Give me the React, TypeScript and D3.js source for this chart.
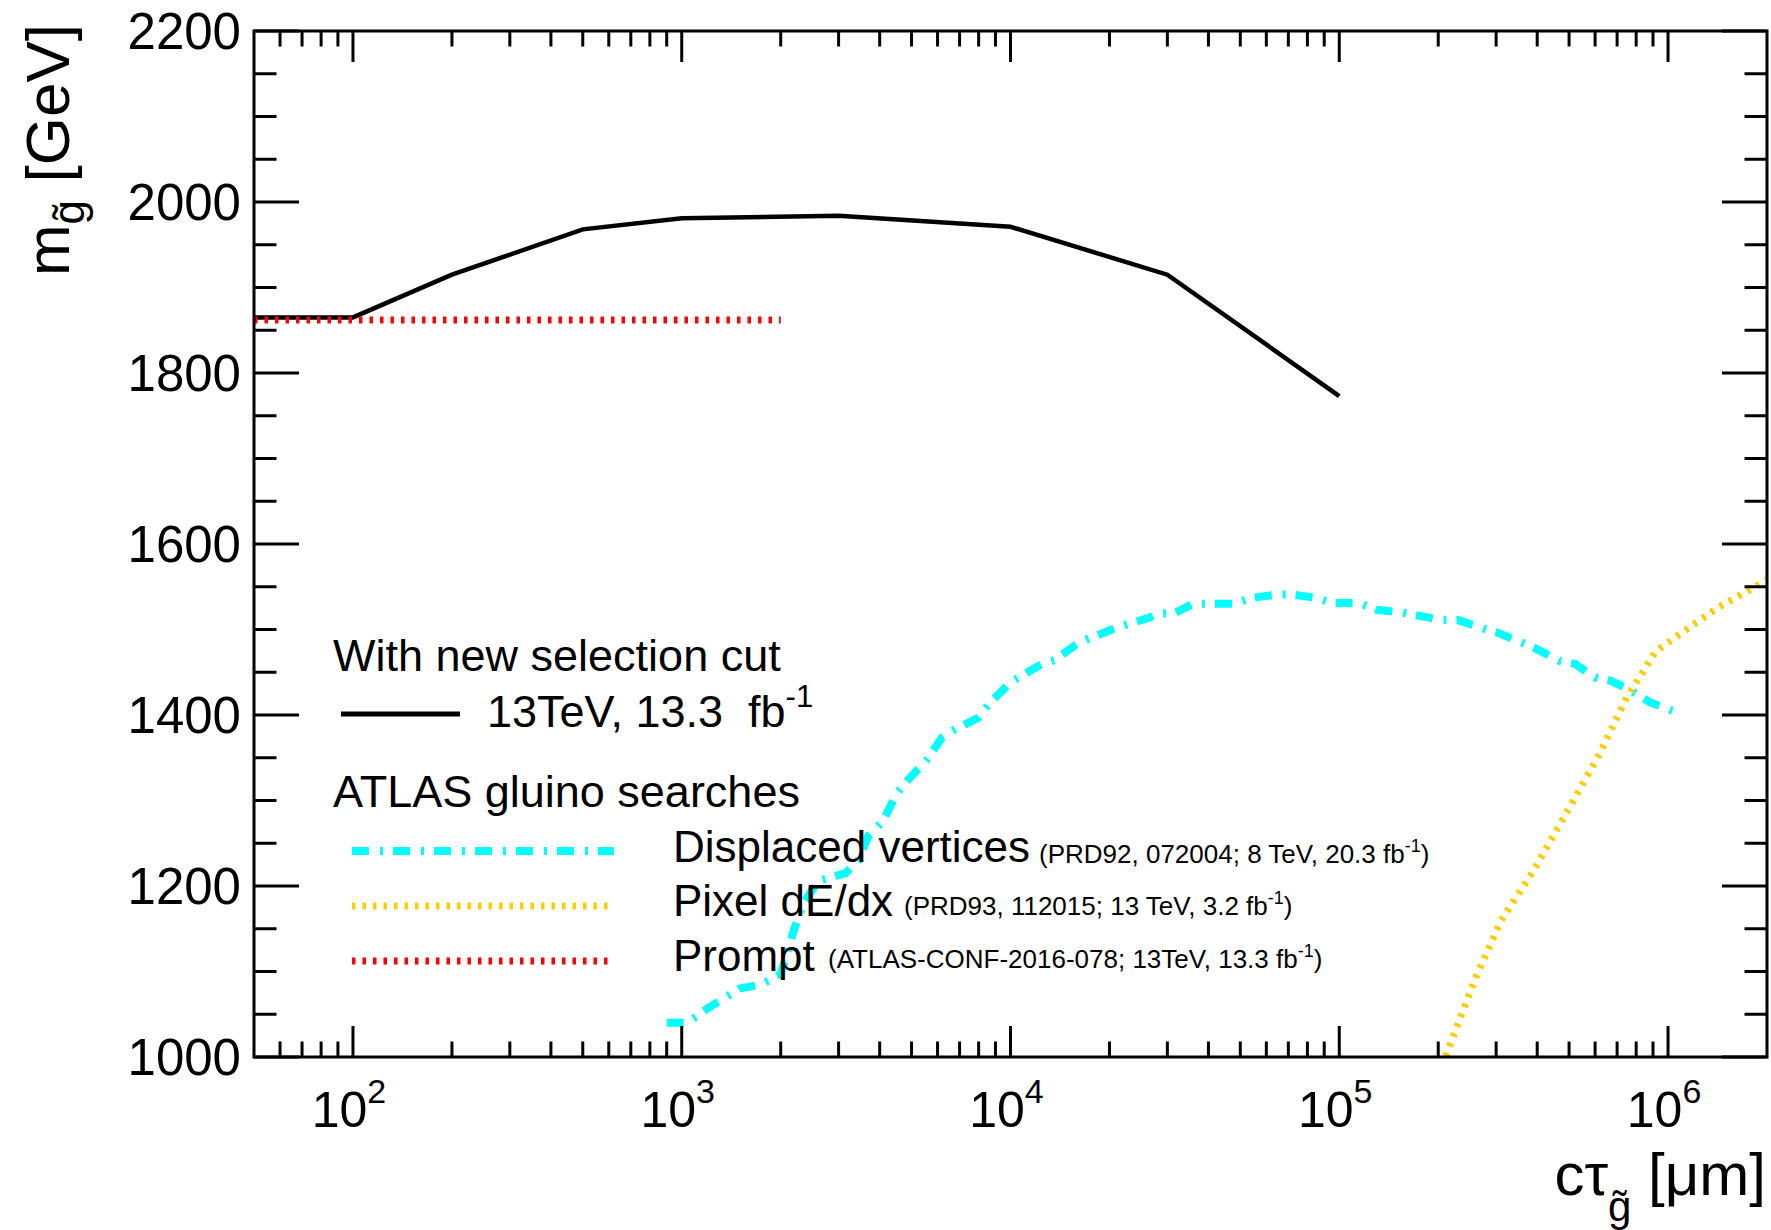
import React from 'react';
import * as d3 from 'd3';

// Gluino mass reach vs. proper decay length

// New selection cut, 13 TeV, 13.3 fb^-1
const newCutCtau = [50, 100, 200, 500, 1000, 3000, 10000, 30000, 100000];
const newCutMass = [1865, 1865, 1915, 1968, 1981, 1984, 1971, 1915, 1773];

// ATLAS prompt search
const promptCtau = [50, 2000];
const promptMass = [1862, 1862];

// ATLAS displaced vertices search
const dvCtau = [
  900, 1040, 1200, 1500, 1750, 2000, 2200, 2350, 2600, 3150, 3450, 3700, 4100, 4500, 4850,
  5550, 6200, 6700, 8000, 8600, 10000, 10600, 12500, 13600, 16200, 21000, 26500, 28000,
  31500, 36000, 48000, 54000, 65000, 72000, 85000, 95000, 115000, 130000, 155000, 170000,
  205000, 230000, 280000, 300000, 390000, 470000, 520000, 600000, 670000, 760000, 880000,
  1100000,
];
const dvMass = [
  1040, 1040, 1057, 1080, 1085, 1097, 1150, 1180, 1206, 1215, 1230, 1259, 1276, 1308, 1323,
  1347, 1374, 1382, 1397, 1413, 1438, 1444, 1460, 1464, 1485, 1502, 1514, 1519,
  1519, 1530, 1530, 1537, 1541, 1541, 1537, 1531, 1531, 1523, 1520, 1517,
  1511, 1511, 1500, 1497, 1479, 1463, 1460, 1444, 1440, 1430, 1415,
  1401,
];

// ATLAS pixel dE/dx search
const dedxCtau = [200000, 260000, 310000, 390000, 490000, 620000, 750000, 920000, 1410000, 2000000];
const dedxMass = [978, 1093, 1159, 1218, 1285, 1355, 1421, 1475, 1525, 1558];

// Axis ticks
const yMajorTicks = [1000, 1200, 1400, 1600, 1800, 2000, 2200];
const yMinorStep = 50;
const xDecadeExponents = [2, 3, 4, 5, 6];

// Legend text
const legendHeaderNew = 'With new selection cut';
const legendNewCutLabel = '13TeV, 13.3  fb';
const legendHeaderAtlas = 'ATLAS gluino searches';
const searchLabels = ['Displaced vertices', 'Pixel dE/dx', 'Prompt'];
const searchRefs = [
  '(PRD92, 072004; 8 TeV, 20.3 fb',
  '(PRD93, 112015; 13 TeV, 3.2 fb',
  '(ATLAS-CONF-2016-078; 13TeV, 13.3 fb',
];

const W = 1771;
const H = 1230;
const LEFT = 254;
const RIGHT = 1767;
const TOP = 31;
const BOTTOM = 1057;

const FONT = '"Liberation Sans", Arial, Helvetica, sans-serif';

const zip = (xs: number[], ys: number[]): [number, number][] => xs.map((v, i) => [v, ys[i]]);

export default function App() {
  const x = d3.scaleLog().domain([50, 2e6]).range([LEFT, RIGHT]);
  const y = d3.scaleLinear().domain([1000, 2200]).range([BOTTOM, TOP]);
  const line = d3
    .line<[number, number]>()
    .x((d) => x(d[0]))
    .y((d) => y(d[1]));

  const yMinor = d3.range(1000, 2200 + 1, yMinorStep).filter((v) => !yMajorTicks.includes(v));
  const xMajor = xDecadeExponents.map((e) => Math.pow(10, e));
  const xMinor: number[] = [];
  for (let e = 1; e <= 6; e++) {
    for (let m = 2; m <= 9; m++) {
      const v = m * Math.pow(10, e);
      if (v > 50 && v < 2e6) xMinor.push(v);
    }
  }

  const yMajLen = 45;
  const yMinLen = 22.5;
  const xMajLen = 31;
  const xMinLen = 15.5;
  const tickStroke = 3;

  const legendLineX1 = 352;
  const legendLineX2 = 614;
  const entryY = [851, 906, 961];
  const entryTextY = [862, 916, 971];
  const refX = [1039, 904, 828];
  const refY = [863, 915, 968];
  const entryStyles = [
    { stroke: '#00ffff', width: 8, dash: '17 11 3 10' },
    { stroke: '#ffcc00', width: 7, dash: '3.5 7' },
    { stroke: '#ff0000', width: 7, dash: '3.5 7' },
  ];

  return (
    <svg
      width={W}
      height={H}
      viewBox={`0 0 ${W} ${H}`}
      style={{ position: 'absolute', left: 0, top: 0, background: '#fff' }}
      fontFamily={FONT}
    >
      <defs>
        <clipPath id="plot-area">
          <rect x={LEFT} y={TOP} width={RIGHT - LEFT} height={BOTTOM - TOP} />
        </clipPath>
      </defs>
      <rect x={0} y={0} width={W} height={H} fill="#fff" />

      {/* curves */}
      <g clipPath="url(#plot-area)" fill="none">
        <path d={line(zip(newCutCtau, newCutMass)) || ''} stroke="#000" strokeWidth={4.5} />
        <path
          d={line(zip(promptCtau, promptMass)) || ''}
          stroke="#ff0000"
          strokeWidth={7}
          strokeDasharray="3.5 7"
        />
        <path
          d={line(zip(dvCtau, dvMass)) || ''}
          stroke="#00ffff"
          strokeWidth={8}
          strokeDasharray="17 11 3 10"
        />
        <path
          d={line(zip(dedxCtau, dedxMass)) || ''}
          stroke="#ffcc00"
          strokeWidth={7}
          strokeDasharray="3.5 7"
        />
      </g>

      {/* frame */}
      <rect
        x={LEFT}
        y={TOP}
        width={RIGHT - LEFT}
        height={BOTTOM - TOP}
        fill="none"
        stroke="#000"
        strokeWidth={3}
      />

      {/* ticks on all four sides */}
      <g stroke="#000" strokeWidth={tickStroke}>
        {yMajorTicks.map((v) => (
          <g key={`ym${v}`}>
            <line x1={LEFT} x2={LEFT + yMajLen} y1={y(v)} y2={y(v)} />
            <line x1={RIGHT} x2={RIGHT - yMajLen} y1={y(v)} y2={y(v)} />
          </g>
        ))}
        {yMinor.map((v) => (
          <g key={`yn${v}`}>
            <line x1={LEFT} x2={LEFT + yMinLen} y1={y(v)} y2={y(v)} />
            <line x1={RIGHT} x2={RIGHT - yMinLen} y1={y(v)} y2={y(v)} />
          </g>
        ))}
        {xMajor.map((v) => (
          <g key={`xm${v}`}>
            <line x1={x(v)} x2={x(v)} y1={BOTTOM} y2={BOTTOM - xMajLen} />
            <line x1={x(v)} x2={x(v)} y1={TOP} y2={TOP + xMajLen} />
          </g>
        ))}
        {xMinor.map((v) => (
          <g key={`xn${v}`}>
            <line x1={x(v)} x2={x(v)} y1={BOTTOM} y2={BOTTOM - xMinLen} />
            <line x1={x(v)} x2={x(v)} y1={TOP} y2={TOP + xMinLen} />
          </g>
        ))}
      </g>

      {/* y tick labels */}
      <g fontSize={51} textAnchor="end" fill="#000">
        {yMajorTicks.map((v) => (
          <text key={`yl${v}`} x={241} y={y(v) + 18}>
            {v}
          </text>
        ))}
      </g>

      {/* x tick labels */}
      <g fill="#000" textAnchor="middle">
        {xDecadeExponents.map((e) => (
          <text key={`xl${e}`} x={x(Math.pow(10, e)) - 4} y={1127} fontSize={50}>
            10
            <tspan fontSize={34} dy={-24}>
              {e}
            </tspan>
          </text>
        ))}
      </g>

      {/* y axis title */}
      <text
        transform={`translate(69, 24) rotate(-90)`}
        textAnchor="end"
        fontSize={62}
        fill="#000"
        xmlSpace="preserve"
      >
        m
        <tspan fontSize={44} dy={15}>
          g
        </tspan>
        <tspan fontSize={44} dx={-19.5}>
          ˜
        </tspan>
        <tspan fontSize={62} dy={-15} dx={5}>
          {' [GeV]'}
        </tspan>
      </text>

      {/* x axis title */}
      <text x={1766} y={1195} textAnchor="end" fontSize={60} fill="#000" xmlSpace="preserve">
        cτ
        <tspan fontSize={42} dy={26}>
          g
        </tspan>
        <tspan fontSize={42} dx={-18.7}>
          ˜
        </tspan>
        <tspan fontSize={60} dy={-26} dx={4.7}>
          {' [μm]'}
        </tspan>
      </text>

      {/* legend */}
      <g fill="#000">
        <text x={333} y={671} fontSize={45}>
          {legendHeaderNew}
        </text>
        <line x1={341} x2={460} y1={714} y2={714} stroke="#000" strokeWidth={5} />
        <text x={487} y={727} fontSize={45} xmlSpace="preserve">
          {legendNewCutLabel}
          <tspan fontSize={31} dy={-20}>
            -1
          </tspan>
        </text>
        <text x={333} y={807} fontSize={45}>
          {legendHeaderAtlas}
        </text>
        {searchLabels.map((label, i) => (
          <g key={label}>
            <line
              x1={legendLineX1}
              x2={legendLineX2}
              y1={entryY[i]}
              y2={entryY[i]}
              stroke={entryStyles[i].stroke}
              strokeWidth={entryStyles[i].width}
              strokeDasharray={entryStyles[i].dash}
            />
            <text x={673} y={entryTextY[i]} fontSize={44}>
              {label}
            </text>
            <text x={refX[i]} y={refY[i]} fontSize={26}>
              {searchRefs[i]}
              <tspan fontSize={18} dy={-11}>
                -1
              </tspan>
              <tspan dy={11}>)</tspan>
            </text>
          </g>
        ))}
      </g>
    </svg>
  );
}
